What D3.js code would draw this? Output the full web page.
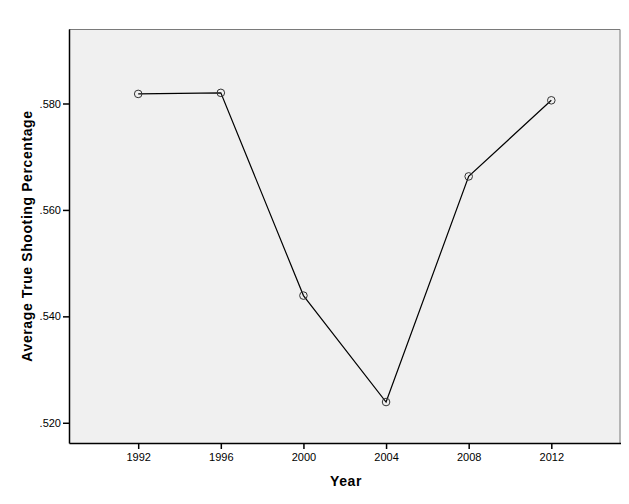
<!DOCTYPE html>
<html><head><meta charset="utf-8">
<script src="https://cdn.jsdelivr.net/npm/d3@7"></script>
<style>
html,body{margin:0;padding:0;background:#fff;}
svg{display:block;}
</style></head>
<body>
<script>
const years = [1992, 1996, 2000, 2004, 2008, 2012];
const tsPct = [0.5818, 0.5820, 0.5439, 0.5239, 0.5663, 0.5806];
const yTicks = [0.520, 0.540, 0.560, 0.580];
const xTicks = [1992, 1996, 2000, 2004, 2008, 2012];

const W = 629, H = 504;
const m = {left: 69, top: 29, right: 629 - 620.5, bottom: 504 - 443};
const svg = d3.select("body").append("svg").attr("width", W).attr("height", H);

const x = d3.scaleLinear().domain([1988.65, 2015.35]).range([m.left, W - m.right]);
const y = d3.scaleLinear().domain([0.5162, 0.5940]).range([H - m.bottom, m.top]);

// plot background
svg.append("rect").attr("x", m.left).attr("y", m.top)
  .attr("width", W - m.right - m.left).attr("height", H - m.bottom - m.top)
  .attr("fill", "#f0f0f0");
// top & right frame (gray)
svg.append("path")
  .attr("d", `M${m.left},${m.top + 0.5}H${W - m.right - 0.5}V${H - m.bottom}`)
  .attr("fill", "none").attr("stroke", "#7a7a7a").attr("stroke-width", 1);

// axes
const xAxis = svg.append("g").attr("transform", `translate(0,${H - m.bottom})`)
  .call(d3.axisBottom(x).tickValues(xTicks).tickFormat(d3.format("d")).tickSize(6).tickSizeOuter(0).tickPadding(4));
const yAxis = svg.append("g").attr("transform", `translate(${m.left},0)`)
  .call(d3.axisLeft(y).tickValues(yTicks).tickFormat(d => d3.format(".3f")(d).replace(/^0/, "")).tickSize(6).tickSizeOuter(0).tickPadding(2));
[xAxis, yAxis].forEach(g => {
  g.selectAll("text").attr("font-family", "Arial, 'Liberation Sans', sans-serif").attr("font-size", 11).attr("fill", "#000");
  g.selectAll("line").attr("stroke", "#000").attr("stroke-width", 1.5);
  g.select(".domain").attr("stroke", "#000").attr("stroke-width", 1.5);
});

// line
const line = d3.line().x((d, i) => x(years[i])).y(d => y(d));
svg.append("path").datum(tsPct).attr("d", line)
  .attr("fill", "none").attr("stroke", "#000").attr("stroke-width", 1.2);
svg.selectAll("circle.pt").data(tsPct).join("circle").attr("class", "pt")
  .attr("cx", (d, i) => x(years[i])).attr("cy", d => y(d)).attr("r", 3.8)
  .attr("fill", "none").attr("stroke", "#333").attr("stroke-width", 1);

// titles
svg.append("text").attr("x", 346).attr("y", 486).attr("text-anchor", "middle")
  .attr("font-family", "Arial, 'Liberation Sans', sans-serif").attr("font-weight", "bold")
  .attr("font-size", 14).attr("letter-spacing", 0.6).text("Year");
svg.append("text").attr("transform", `translate(32,${(m.top + H - m.bottom) / 2}) rotate(-90)`)
  .attr("text-anchor", "middle")
  .attr("font-family", "Arial, 'Liberation Sans', sans-serif").attr("font-weight", "bold")
  .attr("font-size", 14).attr("letter-spacing", 0.6).text("Average True Shooting Percentage");
</script>
</body></html>
